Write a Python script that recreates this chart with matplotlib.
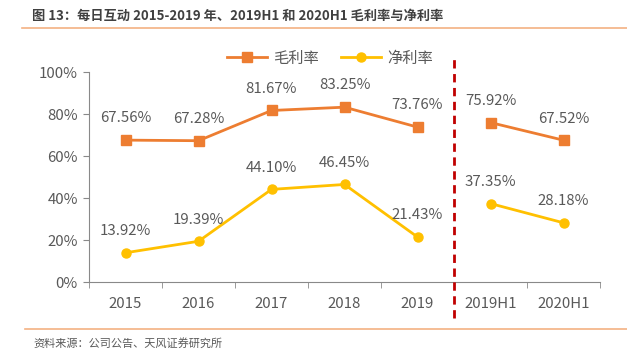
import matplotlib
matplotlib.use('Agg')
import matplotlib.pyplot as plt
import numpy as np
from matplotlib.lines import Line2D

plt.rcParams['font.family'] = ['Noto Sans CJK SC', 'DejaVu Sans']

categories = ['2015', '2016', '2017', '2018', '2019', '2019H1', '2020H1']
gross_margin = [67.56, 67.28, 81.67, 83.25, 73.76, 75.92, 67.52]
net_margin = [13.92, 19.39, 44.10, 46.45, 21.43, 37.35, 28.18]
yticks = [0, 20, 40, 60, 80, 100]

ORANGE = '#ED7D31'
YELLOW = '#FFC000'
GREY = '#595959'

fig = plt.figure(figsize=(6.27, 3.55), dpi=100)
ax = fig.add_axes([89 / 627, 1 - 282 / 355, 511 / 627, 210 / 355])

x = np.arange(len(categories))
for vals, color, marker in [(gross_margin, ORANGE, 's'), (net_margin, YELLOW, 'o')]:
    v = np.array(vals) / 100
    ax.plot(x[:5], v[:5], color=color, lw=2, marker=marker, ms=6.5, zorder=3)
    ax.plot(x[5:], v[5:], color=color, lw=2, marker=marker, ms=6.5, zorder=3)
    for xi, vi in zip(x, vals):
        ax.text(xi, vi / 100 + 0.07, f'{vi:.2f}%', ha='center', va='bottom',
                fontsize=10.8, color=GREY)

ax.set_xlim(-0.5, len(categories) - 0.5)
ax.set_ylim(0, 1)
ax.set_yticks([t / 100 for t in yticks])
ax.set_yticklabels([f'{t}%' for t in yticks], fontsize=10.8, color=GREY)
ax.set_xticks(x)
ax.set_xticklabels(categories, fontsize=10.8, color=GREY)
ax.set_xticks(np.arange(-0.5, len(categories), 1), minor=True)
ax.tick_params(axis='x', which='major', length=0, pad=11)
ax.tick_params(axis='x', which='minor', length=4, color='#898989')
ax.tick_params(axis='y', length=4, color='#898989', pad=4)
for s in ['top', 'right']:
    ax.spines[s].set_visible(False)
for s in ['left', 'bottom']:
    ax.spines[s].set_color('#898989')

# split line between annual and half-year data
ax.plot([4.5, 4.5], [-0.17, 1.06], color='#C00000', lw=2, ls=(0, (3, 2)),
        clip_on=False, zorder=4)

handles = [Line2D([], [], color=ORANGE, lw=2, marker='s', ms=6.5),
           Line2D([], [], color=YELLOW, lw=2, marker='o', ms=6.5)]
fig.legend(handles, ['毛利率', '净利率'], loc='center', bbox_to_anchor=(330 / 627, 1 - 58 / 355),
           ncol=2, frameon=False, fontsize=11, labelcolor=GREY, handlelength=2.6,
           columnspacing=1.5, handletextpad=0.4)

fig.text(32 / 627, 1 - 16 / 355, '图 13：每日互动 2015-2019 年、2019H1 和 2020H1 毛利率与净利率',
         fontsize=9.5, color='#404040', fontweight='bold', va='center', ha='left')
fig.add_artist(Line2D([22 / 627, 1], [1 - 28 / 355] * 2, color='#F4B183', lw=1.2))
fig.add_artist(Line2D([25 / 627, 1], [1 - 329 / 355] * 2, color='#F4B183', lw=1.2))
fig.text(33 / 627, 1 - 343 / 355, '资料来源：公司公告、天风证券研究所', fontsize=8,
         color=GREY, va='center', ha='left')

fig.savefig('out.png', dpi=100)
